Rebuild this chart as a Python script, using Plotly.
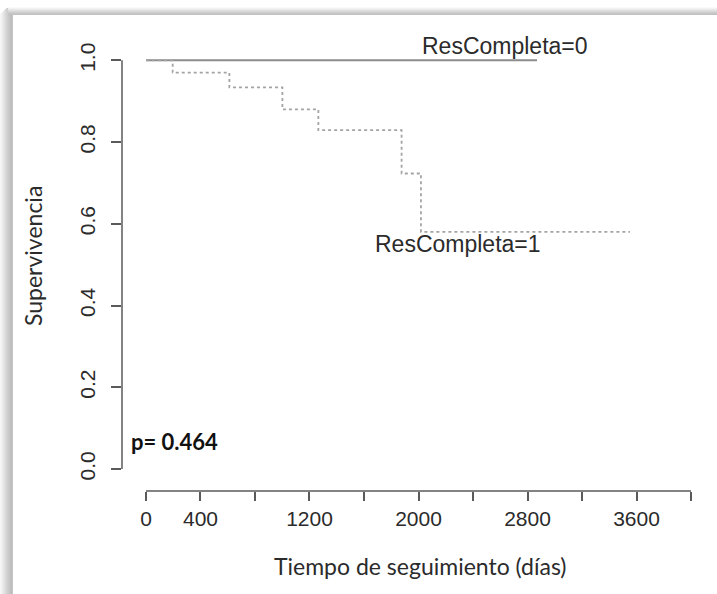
import plotly.graph_objects as go

# Kaplan-Meier survival by complete response group
t_grupo0 = [0, 2870]
s_grupo0 = [1.0, 1.0]

t_grupo1 = [0, 196, 612, 1001, 1265, 1876, 2018, 3552]
s_grupo1 = [1.0, 0.970, 0.934, 0.880, 0.829, 0.723, 0.580, 0.580]

x_ticks = [0, 400, 800, 1200, 1600, 2000, 2400, 2800, 3200, 3600, 4000]
x_tick_text = ["0", "400", "", "1200", "", "2000", "", "2800", "", "3600", ""]
y_ticks = [0.0, 0.2, 0.4, 0.6, 0.8, 1.0]
y_tick_text = ["0.0", "0.2", "0.4", "0.6", "0.8", "1.0"]

label_0 = "ResCompleta=0"
label_1 = "ResCompleta=1"
p_text = "p= 0.464"

W, H = 717, 594
L, R, T, B = 122, 5, 44, 103

AXIS_COL = "#5a5a5a"
TXT_COL = "#2b2b2b"
SANS = "Liberation Sans, Arial, sans-serif"
CAL = "Lato, Open Sans, sans-serif"

fig = go.Figure()
fig.add_trace(go.Scatter(x=t_grupo0, y=s_grupo0, mode="lines", line_shape="hv",
                         line=dict(color="#8c8c8c", width=2), showlegend=False))
fig.add_trace(go.Scatter(x=t_grupo1, y=s_grupo1, mode="lines", line_shape="hv",
                         line=dict(color="#a4a4a4", width=1.8, dash="dot"), showlegend=False))

# R-style axis lines spanning only the tick range
fig.add_shape(type="line", xref="x", yref="y domain", x0=x_ticks[0], x1=x_ticks[-1], y0=0, y1=0,
              line=dict(color=AXIS_COL, width=1.5))
fig.add_shape(type="line", xref="x domain", yref="y", x0=0, x1=0, y0=y_ticks[0], y1=y_ticks[-1],
              line=dict(color=AXIS_COL, width=1.5))

# window frame shading along top and left edges
pw = W - L - R
ph = H - T - B
def px_x(p):
    return (p - L) / pw
def px_y(p):
    return (H - B - p) / ph

left_grays = ["#f6f6f6", "#f1f1f1", "#ececec", "#e6e6e6", "#e0e0e0", "#dadada", "#d4d4d4",
              "#cfcfcf", "#cacaca", "#c5c5c5", "#c1c1c1", "#bdbdbd", "#c4c4c4"]
for i, c in enumerate(left_grays):
    fig.add_shape(type="rect", xref="paper", yref="paper", x0=px_x(i), x1=px_x(i + 1),
                  y0=px_y(H), y1=px_y(8 + max(0, 6 - i)), line=dict(width=0), fillcolor=c, layer="below")
top_grays = ["#fafafa", "#f2f2f2", "#e9e9e9", "#e0e0e0", "#d7d7d7", "#cecece", "#c6c6c6", "#c2c2c2"]
for j, c in enumerate(top_grays):
    fig.add_shape(type="rect", xref="paper", yref="paper", x0=px_x(8), x1=px_x(W),
                  y0=px_y(7 + j + 1), y1=px_y(7 + j), line=dict(width=0), fillcolor=c, layer="below")

fig.add_annotation(x=2635, y=1.034, xref="x", yref="y", text=label_0, showarrow=False,
                   font=dict(family=SANS, size=23, color=TXT_COL), xanchor="center", yanchor="middle")
fig.add_annotation(x=2290, y=0.550, xref="x", yref="y", text=label_1, showarrow=False,
                   font=dict(family=SANS, size=23, color=TXT_COL), xanchor="center", yanchor="middle")
fig.add_annotation(x=-125, y=0.066, xref="x", yref="y", text="<b>" + p_text + "</b>", showarrow=False,
                   font=dict(family=CAL, size=22, color="#111111"), xanchor="left", yanchor="middle")

# axis titles
fig.add_annotation(x=px_x(420), y=px_y(566), xref="paper", yref="paper", text="Tiempo de seguimiento (días)",
                   showarrow=False, font=dict(family=CAL, size=23, color=TXT_COL),
                   xanchor="center", yanchor="middle")
fig.add_annotation(x=px_x(33), y=px_y(256), xref="paper", yref="paper", text="Supervivencia",
                   showarrow=False, textangle=-90, font=dict(family=CAL, size=23, color=TXT_COL),
                   xanchor="center", yanchor="middle")

fig.update_xaxes(range=[-176, 4154], tickvals=x_ticks, ticktext=x_tick_text, ticks="outside",
                 ticklen=9, tickwidth=1.5, tickcolor=AXIS_COL, showline=False, showgrid=False,
                 zeroline=False, tickfont=dict(family=SANS, size=21, color=TXT_COL))
fig.update_yaxes(range=[-0.054, 1.04], tickvals=y_ticks, ticktext=y_tick_text, ticks="outside",
                 ticklen=10, tickwidth=1.5, tickcolor=AXIS_COL, showline=False, showgrid=False,
                 zeroline=False, tickangle=-90, ticklabelstandoff=8,
                 tickfont=dict(family=SANS, size=21, color=TXT_COL))

fig.update_layout(width=W, height=H, margin=dict(l=L, r=R, t=T, b=B, autoexpand=False),
                  paper_bgcolor="white", plot_bgcolor="white", showlegend=False)

fig.write_html("out.html")
